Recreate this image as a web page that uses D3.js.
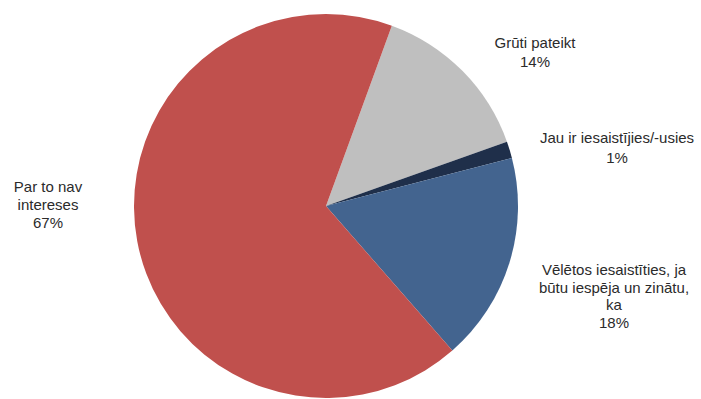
<!DOCTYPE html>
<html>
<head>
<meta charset="utf-8">
<script src="https://cdn.jsdelivr.net/npm/d3@7"></script>
<style>
  body { margin: 0; background: #fff; }
  svg { display: block; }
  .lbl { font-family: "Liberation Sans", Arial, sans-serif; font-size: 15px; fill: #2b2b2b; }
</style>
</head>
<body>
<script>
// slices, clockwise from the gray one
var categories = ["Grūti pateikt", "Jau ir iesaistījies/-usies", "Vēlētos iesaistīties, ja būtu iespēja un zinātu, ka", "Par to nav intereses"];
var values = [14, 1.4, 17.6, 67];
var pctLabels = ["14%", "1%", "18%", "67%"];
// label lines as they wrap in the picture
var labelLines = [
    ["Grūti pateikt", "14%"],
    ["Jau ir iesaistījies/-usies", "1%"],
    ["Vēlētos iesaistīties, ja", "būtu iespēja un zinātu,", "ka", "18%"],
    ["Par to nav", "intereses", "67%"]
];
var colors = ["#bfbfbf", "#1f2f4a", "#43648f", "#c0504d"];

var width = 701, height = 399;
var cx = 326, cy = 206, r = 192;

var svg = d3.select("body").append("svg")
    .attr("width", width)
    .attr("height", height);

var pie = d3.pie()
    .sort(null)
    .value(function(d) { return d; })
    .startAngle(0.35)
    .endAngle(0.35 + 2 * Math.PI);

var arc = d3.arc().innerRadius(0).outerRadius(r);

var g = svg.append("g").attr("transform", "translate(" + cx + "," + cy + ")");

g.selectAll("path")
    .data(pie(values))
    .enter()
    .append("path")
    .attr("d", arc)
    .attr("fill", function(d, i) { return colors[i]; });

// label anchor points (centre of first line)
var labelPos = [[535, 43], [617, 138], [614, 270], [48, 187]];
var lineH = [19, 20, 17.5, 18];

categories.forEach(function(c, i) {
    var t = svg.append("text")
        .attr("class", "lbl")
        .attr("text-anchor", "middle")
        .attr("x", labelPos[i][0])
        .attr("y", labelPos[i][1])
        .attr("dy", "0.35em");
    labelLines[i].forEach(function(line, j) {
        t.append("tspan")
            .attr("x", labelPos[i][0])
            .attr("y", labelPos[i][1] + j * lineH[i])
            .attr("dy", "0.35em")
            .text(line);
    });
});
</script>
</body>
</html>
